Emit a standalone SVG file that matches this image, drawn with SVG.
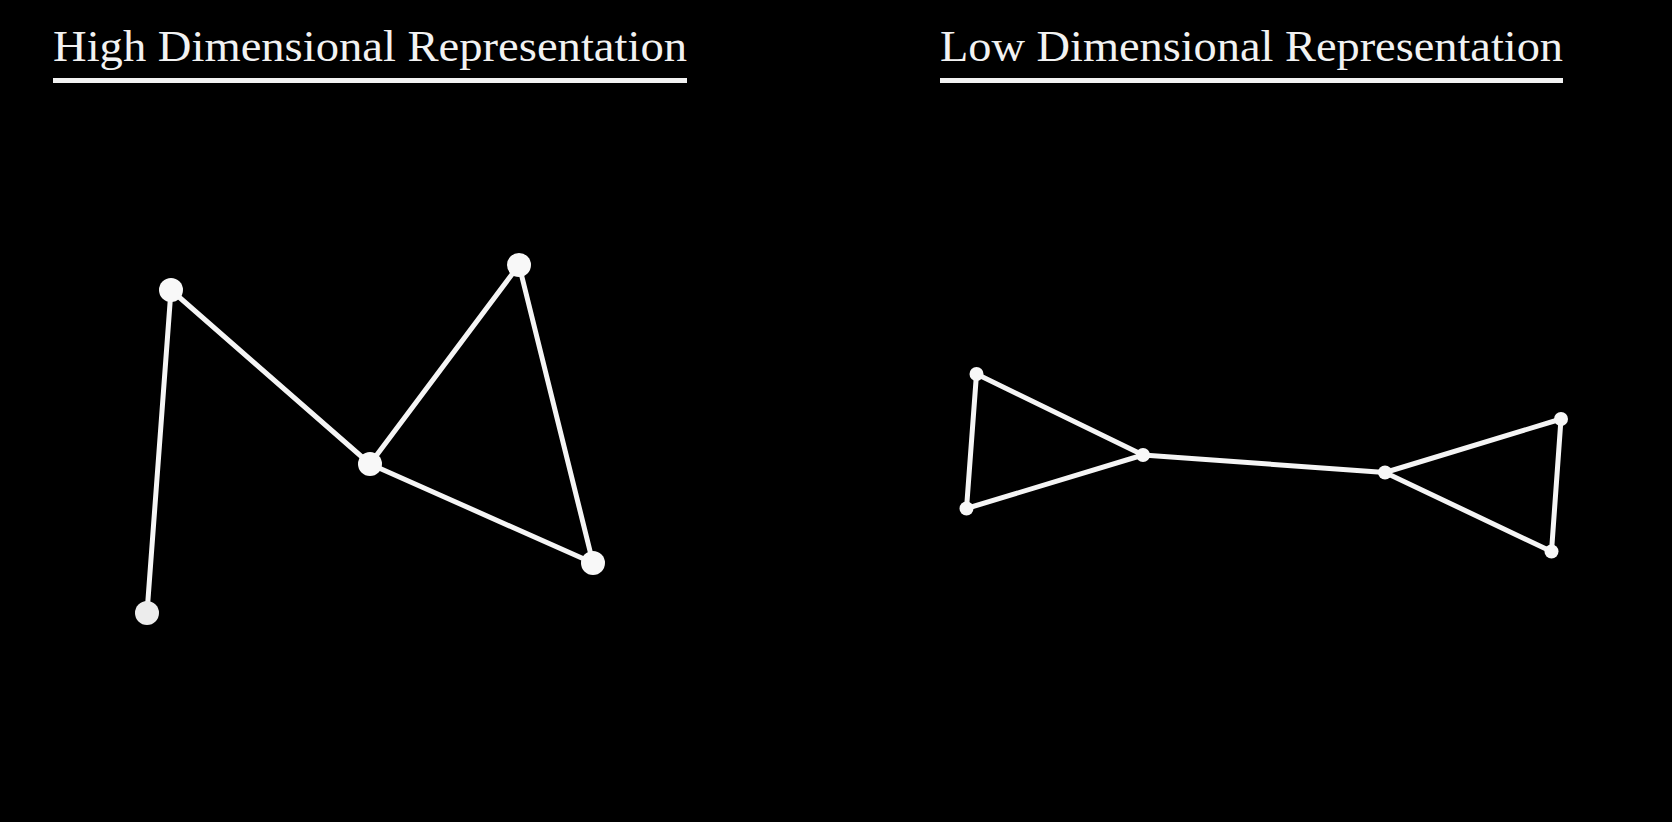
<svg xmlns="http://www.w3.org/2000/svg" width="1672" height="822" viewBox="0 0 1672 822">
<style>
.bg{fill:#000}
.title{font-family:"Liberation Serif","DejaVu Serif",serif;font-size:44px;fill:#f2f2f2}
.rule{stroke:#f2f2f2;stroke-width:5}
.edge{stroke:#f5f5f5;stroke-width:5;stroke-linecap:round;fill:none}
.big{fill:#f8f8f8}
.small{fill:#f8f8f8}
</style>
<rect class="bg" x="0" y="0" width="1672" height="822"/>
<g id="title-high">
<text class="title" x="53" y="61" textLength="634" lengthAdjust="spacingAndGlyphs">High Dimensional Representation</text>
<line class="rule" x1="53" y1="80.5" x2="687" y2="80.5"/>
</g>
<g id="title-low">
<text class="title" x="940" y="61" textLength="623" lengthAdjust="spacingAndGlyphs">Low Dimensional Representation</text>
<line class="rule" x1="940" y1="80.5" x2="1563" y2="80.5"/>
</g>
<g id="connectors">
<line class="edge" x1="147" y1="613" x2="171" y2="290"/>
<line class="edge" x1="171" y1="290" x2="370" y2="464"/>
<line class="edge" x1="370" y1="464" x2="519" y2="265"/>
<line class="edge" x1="519" y1="265" x2="593" y2="563"/>
<line class="edge" x1="370" y1="464" x2="593" y2="563"/>
<line class="edge" x1="976.5" y1="374" x2="966.5" y2="508.5"/>
<line class="edge" x1="976.5" y1="374" x2="1143" y2="455"/>
<line class="edge" x1="966.5" y1="508.5" x2="1143" y2="455"/>
<line class="edge" x1="1143" y1="455" x2="1385" y2="472.5"/>
<line class="edge" x1="1385" y1="472.5" x2="1561" y2="419"/>
<line class="edge" x1="1385" y1="472.5" x2="1551.5" y2="551.5"/>
<line class="edge" x1="1561" y1="419" x2="1551.5" y2="551.5"/>
</g>
<g id="h1"><circle class="big" cx="171" cy="290" r="12"/></g>
<g id="h2"><circle class="big" cx="519" cy="265" r="12"/></g>
<g id="h3"><circle class="big" cx="370" cy="464" r="12"/></g>
<g id="h4"><circle class="big" cx="593" cy="563" r="12"/></g>
<g id="h5"><circle cx="147" cy="613" r="12" fill="#ececec"/></g>
<g id="l1"><circle class="small" cx="976.5" cy="374" r="7"/></g>
<g id="l2"><circle class="small" cx="966.5" cy="508.5" r="7"/></g>
<g id="l3"><circle class="small" cx="1143" cy="455" r="7"/></g>
<g id="l4"><circle class="small" cx="1385" cy="472.5" r="7"/></g>
<g id="l5"><circle class="small" cx="1561" cy="419" r="7"/></g>
<g id="l6"><circle class="small" cx="1551.5" cy="551.5" r="7"/></g>
</svg>
